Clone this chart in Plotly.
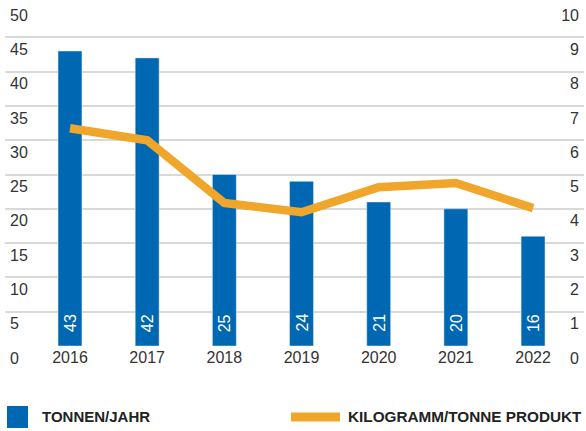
import plotly.graph_objects as go

# ---- data ----
years = ["2016", "2017", "2018", "2019", "2020", "2021", "2022"]
tonnen_jahr = [43, 42, 25, 24, 21, 20, 16]
kg_per_tonne = [6.35, 6.0, 4.17, 3.9, 4.63, 4.75, 4.02]
left_ticks = [0, 5, 10, 15, 20, 25, 30, 35, 40, 45, 50]
right_ticks = [0, 1, 2, 3, 4, 5, 6, 7, 8, 9, 10]
legend_labels = ["TONNEN/JAHR", "KILOGRAMM/TONNE PRODUKT"]

BLUE = "#0068B2"
ORANGE = "#F0A52B"
GRID = "#D9D9D9"
TXT = "#333333"
FONT = "Liberation Sans, Arial, sans-serif"

W, H = 586, 431
ML, MR, MT, MB = 5, 2, 3, 85
PW, PH = W - ML - MR, H - MT - MB

def px_x(px):
    return (px - ML) / PW

def px_y(py):
    return (H - MB - py) / PH

xs = list(range(len(years)))

fig = go.Figure()
fig.add_trace(go.Bar(
    x=xs, y=tonnen_jahr, marker_color=BLUE, width=0.31,
    name=legend_labels[0], yaxis="y", showlegend=False,
))
fig.add_trace(go.Scatter(
    x=xs, y=kg_per_tonne, mode="lines", line=dict(color=ORANGE, width=8.5),
    name=legend_labels[1], yaxis="y2", showlegend=False,
))

# value labels inside bars
for x, v in zip(xs, tonnen_jahr):
    fig.add_annotation(
        x=x, y=0, xref="x", yref="y", text=str(v), showarrow=False,
        textangle=-90, yanchor="bottom", xanchor="center", yshift=12,
        font=dict(family=FONT, size=16, color="white"),
    )

# custom legend
fig.add_shape(type="rect", xref="paper", yref="paper",
              x0=px_x(7), x1=px_x(28), y0=px_y(406), y1=px_y(428),
              fillcolor=BLUE, line_width=0)
fig.add_annotation(xref="paper", yref="paper", x=px_x(40), y=px_y(417),
                   xanchor="left", yanchor="middle", showarrow=False,
                   text="<b>" + legend_labels[0] + "</b>",
                   font=dict(family=FONT, size=15, color="#222222"))
fig.add_shape(type="line", xref="paper", yref="paper",
              x0=px_x(291), x1=px_x(340), y0=px_y(417), y1=px_y(417),
              line=dict(color=ORANGE, width=9))
fig.add_annotation(xref="paper", yref="paper", x=px_x(584), y=px_y(417),
                   xanchor="right", yanchor="middle", showarrow=False,
                   text="<b>" + legend_labels[1] + "</b>",
                   font=dict(family=FONT, size=15.3, color="#222222"))

fig.update_layout(
    width=W, height=H,
    margin=dict(l=ML, r=MR, t=MT, b=MB, autoexpand=False),
    paper_bgcolor="white", plot_bgcolor="white",
    font=dict(family=FONT, size=16, color=TXT),
    showlegend=False,
    xaxis=dict(
        range=[-0.842, 6.66], tickvals=xs, ticktext=years, automargin=False,
        showgrid=False, zeroline=False, showline=False, ticks="",
        tickfont=dict(size=16, color=TXT), ticklabelstandoff=0,
    ),
    yaxis=dict(
        range=[0, 50], tickvals=left_ticks, showgrid=True, gridcolor=GRID,
        gridwidth=2, zeroline=False, showline=False, ticks="", automargin=False,
        ticklabelposition="inside", ticklabeloverflow="allow",
        ticklabelshift=12, ticklabelstandoff=2,
        tickfont=dict(size=16, color=TXT),
    ),
    yaxis2=dict(
        range=[0, 10], tickvals=right_ticks, overlaying="y", side="right",
        showgrid=False, zeroline=False, showline=False, ticks="", automargin=False,
        ticklabelposition="inside", ticklabeloverflow="allow",
        ticklabelshift=12, ticklabelstandoff=2,
        tickfont=dict(size=16, color=TXT),
    ),
)

fig.write_html(
    "out.html",
    config={"displayModeBar": False},
    post_script="document.body.style.margin='0';document.body.style.padding='0';",
)
